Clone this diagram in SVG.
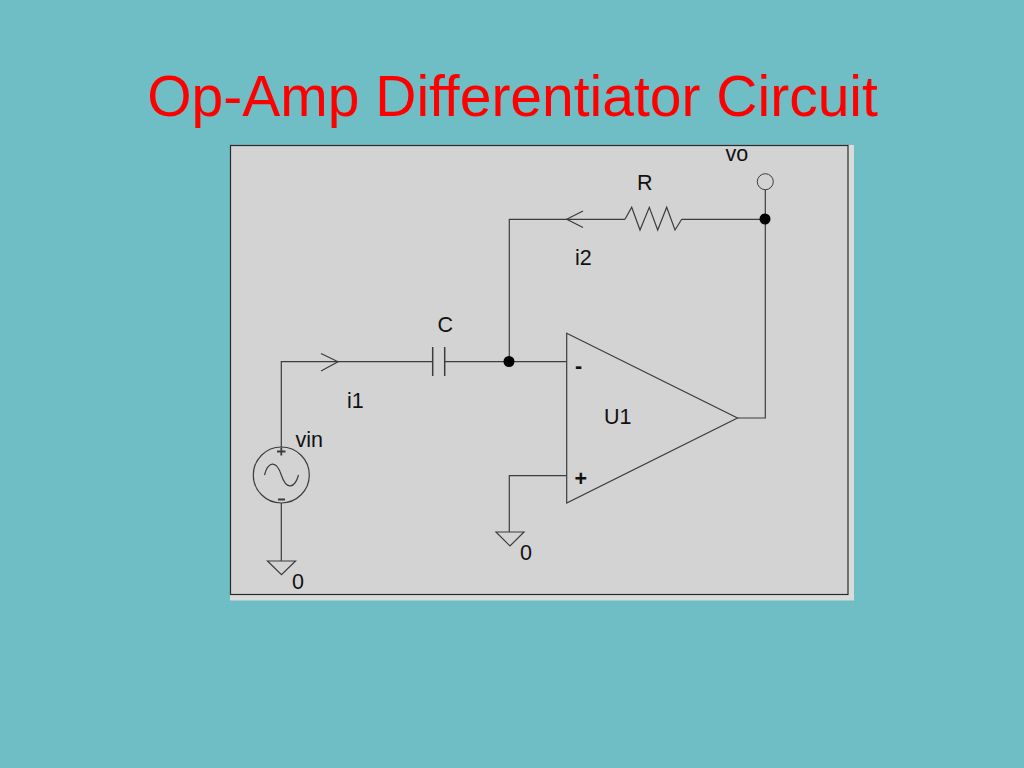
<svg xmlns="http://www.w3.org/2000/svg" width="1024" height="768" viewBox="0 0 1024 768">
<style>
.w{fill:none;stroke:#3c3c3c;stroke-width:1.2}
.t{font-family:"Liberation Sans",Arial,sans-serif;font-size:21.5px;fill:#111}
.b{font-weight:bold}
.d{fill:#000;stroke:none}
</style>
<rect id="background" width="1024" height="768" fill="#70bec5"/>
<text id="title" x="512.500" y="116" text-anchor="middle" font-family="'Liberation Sans',Arial,sans-serif" font-size="57" fill="#ff0000">Op-Amp Differentiator Circuit</text>
<g id="panel">
<rect x="230" y="145" width="624" height="455.500" fill="#d9dcd9"/>
<rect x="230.500" y="145.500" width="617.500" height="449" fill="#d3d3d3" stroke="#2a2a2a" stroke-width="1.200"/>
</g>
<g id="connectors">
<path class="w" d="M281.300 447V361.700H432.700M444.700 361.700H566.700"/>
<path class="w" d="M281.300 503V561"/>
<path class="w" d="M509.300 361.700V219.300H625M681.700 219.300H765.300"/>
<path class="w" d="M765.300 189.500V418H737.500"/>
<path class="w" d="M566.700 475.700H509.300V532"/>
<path class="w" d="M321 353.500L338 361.700L321 371"/>
<path class="w" d="M583 211L566.700 219.300L583 227.500"/>
</g>
<g id="node-vin">
<circle class="w" cx="281.300" cy="475" r="28"/>
<path class="w" d="M264.500 475C268 462 276 459 281.300 475S295 488 298.500 475"/>
<path class="w" style="stroke-width:1.800" d="M277 451.500H285.500M281.300 447.500V455.500M278 499.500H285"/>
<text class="t" x="295.500" y="447">vin</text>
</g>
<g id="node-gnd1">
<path class="w" d="M267.500 561H295.500L281.500 574.700Z"/>
<text class="t" x="292" y="589">0</text>
</g>
<g id="node-gnd2">
<path class="w" d="M496 532H524L510 546Z"/>
<text class="t" x="520" y="560">0</text>
</g>
<g id="node-C">
<path class="w" style="stroke-width:1.500" d="M432.700 347V376M444.700 347V376"/>
<text class="t" x="437.500" y="332">C</text>
</g>
<g id="node-R">
<path class="w" d="M625 219.300L631.700 207.300L640 230L649.300 207.300L657.700 230L666.700 207.300L675 230L681.700 219.300"/>
<text class="t" x="637" y="190">R</text>
</g>
<g id="node-U1">
<path class="w" d="M566.700 333.300L737.500 418L566.700 503Z"/>
<text class="t b" x="575" y="373">-</text>
<text class="t b" x="574.500" y="486">+</text>
<text class="t" x="604" y="424">U1</text>
</g>
<g id="node-j1"><circle class="d" cx="509" cy="361.500" r="5.500"/></g>
<g id="node-j2"><circle class="d" cx="765" cy="219" r="5.500"/></g>
<g id="node-vo">
<circle cx="765.300" cy="181.700" r="8" fill="#d3d3d3" stroke="#3c3c3c" stroke-width="1"/>
<text class="t" x="725.500" y="161">vo</text>
</g>
<text class="t" id="label-i1" x="347" y="407.500">i1</text>
<text class="t" id="label-i2" x="575" y="265">i2</text>
</svg>
